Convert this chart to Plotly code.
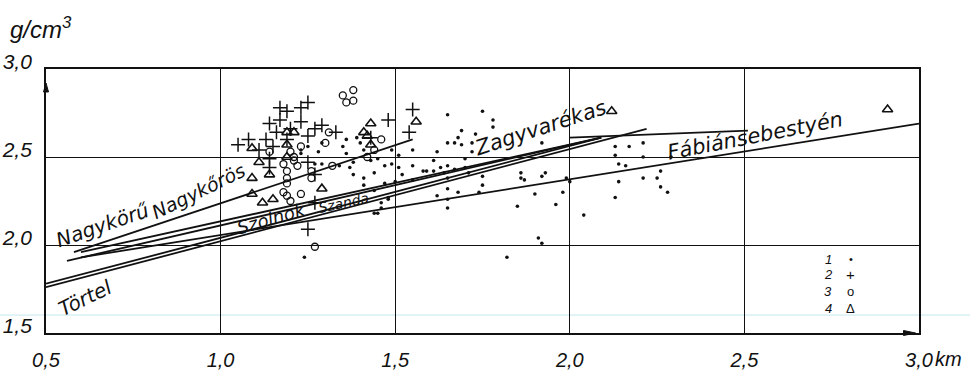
import plotly.graph_objects as go

# ---------------- data ----------------
# 1: dots
dot_x = [1.65, 1.75, 1.78, 1.78, 1.69, 1.68, 1.65, 1.67, 1.69, 1.72, 1.73, 1.72, 1.62, 1.61, 1.70,
         1.63, 1.65, 1.64, 1.67, 1.70, 1.71, 1.65, 1.55, 1.55, 1.65, 1.68, 1.62, 1.65, 1.65, 1.74,
         1.75, 1.75, 1.86, 1.86, 1.87, 1.92, 1.93, 1.90, 1.92, 1.85, 1.96, 1.98, 1.99, 2.00, 2.04,
         1.91, 1.92, 1.82, 2.13, 2.17, 2.21, 2.13, 2.14, 2.16, 2.21, 2.29, 2.26, 2.25, 2.21, 2.26,
         2.28, 2.14, 2.13, 1.23, 1.23, 1.25, 1.28, 1.29, 1.29, 1.36, 1.35, 1.36, 1.39, 1.38, 1.37,
         1.41, 1.43, 1.44, 1.47, 1.45, 1.49, 1.49, 1.51, 1.51, 1.46, 1.44, 1.45, 1.46, 1.44, 1.24,
         1.55, 1.58, 1.50, 1.48, 1.47, 1.40, 1.41, 1.34, 1.38, 1.41, 1.52, 1.27, 1.48, 1.59, 1.61]
dot_y = [2.74, 2.76, 2.71, 2.67, 2.65, 2.61, 2.58, 2.58, 2.57, 2.58, 2.63, 2.53, 2.53, 2.48, 2.49,
         2.44, 2.45, 2.41, 2.43, 2.44, 2.41, 2.38, 2.45, 2.37, 2.32, 2.30, 2.28, 2.26, 2.21, 2.30,
         2.39, 2.34, 2.41, 2.38, 2.37, 2.39, 2.41, 2.29, 2.58, 2.22, 2.23, 2.30, 2.38, 2.36, 2.17,
         2.04, 2.01, 1.93, 2.56, 2.56, 2.58, 2.51, 2.46, 2.45, 2.50, 2.50, 2.42, 2.38, 2.38, 2.33,
         2.30, 2.36, 2.27, 2.54, 2.52, 2.56, 2.53, 2.58, 2.46, 2.60, 2.56, 2.52, 2.61, 2.47, 2.44,
         2.54, 2.48, 2.41, 2.45, 2.49, 2.54, 2.46, 2.51, 2.44, 2.24, 2.18, 2.18, 2.21, 2.31, 1.93,
         2.54, 2.42, 2.36, 2.27, 2.35, 2.58, 2.34, 2.45, 2.40, 2.38, 2.40, 2.46, 2.26, 2.42, 2.42]

# 2: crosses
plus_x = [1.17, 1.19, 1.23, 1.25, 1.05, 1.08, 1.14, 1.17, 1.23, 1.13, 1.15, 1.25, 1.27, 1.29, 1.33,
          1.14, 1.14, 1.25, 1.27, 1.55, 1.48, 1.54, 1.27, 1.25, 1.43, 1.16, 1.20, 1.19, 1.11]
plus_y = [2.78, 2.76, 2.78, 2.81, 2.57, 2.60, 2.69, 2.71, 2.70, 2.60, 2.56, 2.62, 2.66, 2.68, 2.64,
          2.49, 2.44, 2.47, 2.40, 2.77, 2.71, 2.64, 2.24, 2.09, 2.61, 2.64, 2.66, 2.60, 2.54]

# 3: circles
circ_x = [1.35, 1.36, 1.38, 1.38, 1.31, 1.30, 1.20, 1.21, 1.18, 1.19, 1.19, 1.19, 1.18, 1.19,
          1.20, 1.23, 1.22, 1.21, 1.26, 1.26, 1.32, 1.42, 1.44, 1.27, 1.14, 1.23, 1.46]
circ_y = [2.85, 2.81, 2.88, 2.82, 2.64, 2.58, 2.53, 2.50, 2.46, 2.42, 2.38, 2.35, 2.30, 2.28,
          2.25, 2.29, 2.45, 2.48, 2.42, 2.38, 2.45, 2.50, 2.54, 1.99, 2.53, 2.56, 2.60]

# 4: triangles
tri_x = [1.09, 1.11, 1.09, 1.09, 1.12, 1.15, 1.14, 1.19, 1.21, 1.19, 1.19, 1.29, 1.41, 1.43,
         1.42, 1.43, 1.56, 2.12, 2.91]
tri_y = [2.55, 2.47, 2.38, 2.29, 2.24, 2.26, 2.40, 2.64, 2.64, 2.57, 2.50, 2.32, 2.64, 2.69,
         2.62, 2.57, 2.70, 2.76, 2.77]

# regression lines (start / end)
line_names = ["Nagykőrös", "Nagykörű", "Szolnok", "Szanda", "Törtel", "Zagyvarékas", "Fábiánsebestyén"]
line_x0 = [0.58, 0.60, 0.56, 0.50, 0.50, 2.00, 0.60]
line_y0 = [1.96, 1.96, 1.91, 1.78, 1.76, 2.61, 1.93]
line_x1 = [1.55, 2.09, 2.09, 2.09, 2.22, 2.51, 3.00]
line_y1 = [2.60, 2.61, 2.61, 2.61, 2.66, 2.65, 2.69]

x_tickvals = [0.5, 1.0, 1.5, 2.0, 2.5, 3.0]
x_ticktext = ["0,5", "1,0", "1,5", "2,0", "2,5", "3,0"]
y_tickvals = [1.5, 2.0, 2.5, 3.0]
y_ticktext = ["1,5", "2,0", "2,5", "3,0"]

legend_numbers = ["1", "2", "3", "4"]
legend_symbols = ["•", "+", "o", "Δ"]

# ---------------- figure ----------------
INK = "#111111"
NUM_FONT = "Liberation Sans"
LBL_FONT = "DejaVu Sans"

fig = go.Figure()

for i, name in enumerate(line_names):
    fig.add_trace(go.Scatter(
        x=[line_x0[i], line_x1[i]], y=[line_y0[i], line_y1[i]], mode="lines",
        line=dict(color=INK, width=1.8), name=name, hoverinfo="skip"))

fig.add_trace(go.Scatter(x=dot_x, y=dot_y, mode="markers", name="1",
                         marker=dict(symbol="circle", size=3.6, color=INK)))
fig.add_trace(go.Scatter(x=plus_x, y=plus_y, mode="markers", name="2",
                         marker=dict(symbol="cross-thin", size=10,
                                     line=dict(color=INK, width=1.5))))
fig.add_trace(go.Scatter(x=circ_x, y=circ_y, mode="markers", name="3",
                         marker=dict(symbol="circle-open", size=7, color=INK,
                                     line=dict(color=INK, width=1.3))))
fig.add_trace(go.Scatter(x=tri_x, y=tri_y, mode="markers", name="4",
                         marker=dict(symbol="triangle-up-open", size=9, color=INK,
                                     line=dict(color=INK, width=1.6))))

annotations = []
# line labels
labels = [
    ("Nagykörű", 0.662, 2.115, -19, 20),
    ("Nagykőrös", 0.937, 2.305, -26, 19),
    ("Szolnok", 1.145, 2.150, -16, 18),
    ("Szanda", 1.351, 2.241, -12, 14),
    ("Törtel", 0.612, 1.700, -26, 20),
    ("Zagyvarékas", 1.915, 2.663, -18, 21),
    ("Fábiánsebestyén", 2.530, 2.618, -11, 21),
]
for txt, lx, ly, ang, sz in labels:
    annotations.append(dict(x=lx, y=ly, xref="x", yref="y", text=txt, showarrow=False,
                            textangle=ang, xanchor="center", yanchor="middle",
                            font=dict(family=LBL_FONT, size=sz, color=INK, style="italic")))

# unit label
annotations.append(dict(x=-0.043, y=1.22, xref="paper", yref="paper", xanchor="left", yanchor="top",
                        text="g/cm<sup>3</sup>", showarrow=False,
                        font=dict(family=NUM_FONT, size=24, color=INK, style="italic")))
# km unit
annotations.append(dict(x=3.0, y=0, xref="x", yref="paper", xanchor="left", yanchor="top",
                        xshift=14, yshift=-13, text="km", showarrow=False,
                        font=dict(family=NUM_FONT, size=20, color=INK, style="italic")))
# in-plot key
key_y = [0.279, 0.221, 0.156, 0.092]
for num, sym, ky in zip(legend_numbers, legend_symbols, key_y):
    annotations.append(dict(x=0.896, y=ky, xref="paper", yref="paper", text=num, showarrow=False,
                            xanchor="center", yanchor="middle",
                            font=dict(family=NUM_FONT, size=13, color=INK, style="italic")))
    annotations.append(dict(x=0.922, y=ky, xref="paper", yref="paper", text=sym, showarrow=False,
                            xanchor="center", yanchor="middle",
                            font=dict(family=NUM_FONT, size={"•": 11, "+": 15}.get(sym, 13), color=INK)))

shapes = [
    # faint scan streak
    dict(type="line", xref="paper", yref="paper", x0=-0.06, x1=1.07, y0=0.068, y1=0.068,
         line=dict(color="rgba(150,215,222,0.55)", width=1), layer="below"),
    # arrowhead on the vertical axis
    dict(type="path", xref="paper", yref="paper", xsizemode="pixel", ysizemode="pixel",
         xanchor=0.0, yanchor=0.947, path="M -2.5 -9 L 0 0 L 2.5 -9 Z",
         fillcolor=INK, line=dict(color=INK, width=1)),
    # arrowhead on the horizontal axis
    dict(type="path", xref="paper", yref="paper", xsizemode="pixel", ysizemode="pixel",
         xanchor=0.996, yanchor=0.0, path="M -12 2.5 L 0 0 L -12 -2.5 Z",
         fillcolor=INK, line=dict(color=INK, width=1)),
]

fig.update_layout(
    width=970, height=373,
    margin=dict(l=46, r=51, t=69, b=40, autoexpand=False),
    plot_bgcolor="white", paper_bgcolor="white",
    showlegend=False,
    annotations=annotations,
    shapes=shapes,
)
fig.update_xaxes(range=[0.5, 3.0], tickvals=x_tickvals, ticktext=x_ticktext, automargin=False,
                 showgrid=True, gridcolor=INK, gridwidth=1.2, zeroline=False,
                 showline=True, linecolor=INK, linewidth=1.8, mirror=True, ticks="",
                 ticklabelstandoff=8,
                 tickfont=dict(family=NUM_FONT, size=20, color=INK, style="italic"))
fig.update_yaxes(range=[1.5, 3.0], tickvals=y_tickvals, ticktext=y_ticktext, automargin=False,
                 showgrid=True, gridcolor=INK, gridwidth=1.2, zeroline=False,
                 showline=True, linecolor=INK, linewidth=1.8, mirror=True, ticks="",
                 ticklabelstandoff=8, ticklabelshift=-7,
                 tickfont=dict(family=NUM_FONT, size=21, color=INK, style="italic"))

fig.write_html("out.html")
